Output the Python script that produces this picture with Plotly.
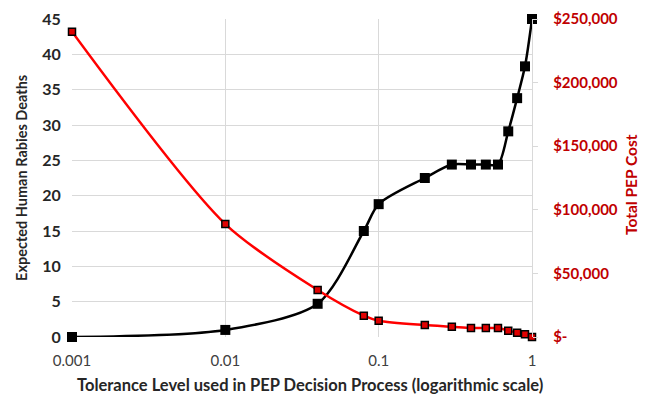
import plotly.graph_objects as go

tolerance = [0.001, 0.01, 0.04, 0.08, 0.1, 0.2, 0.3, 0.4, 0.5, 0.6, 0.7, 0.8, 0.9, 1.0]
deaths = [0.0, 1.0, 4.7, 15.0, 18.8, 22.5, 24.4, 24.4, 24.4, 24.4, 29.1, 33.8, 38.3, 45.0]
cost = [240000, 88800, 37000, 16800, 12800, 9400, 8100, 7100, 7000, 7000, 5000, 3400, 2100, 0]

x_ticks = [0.001, 0.01, 0.1, 1]
x_ticktext = ["0.001", "0.01", "0.1", "1"]
y_ticks = [0, 5, 10, 15, 20, 25, 30, 35, 40, 45]
y2_ticks = [0, 50000, 100000, 150000, 200000, 250000]
y2_ticktext = ["$-", "$50,000", "$100,000", "$150,000", "$200,000", "$250,000"]

x_title = "Tolerance Level used in PEP Decision Process (logarithmic scale)"
y_title = "Expected Human Rabies Deaths"
y2_title = "Total PEP Cost"

RED = "#C00000"
FONT = "Lato"

fig = go.Figure()
fig.add_trace(go.Scatter(
    x=tolerance, y=cost, yaxis="y2", mode="lines+markers",
    line=dict(color="#FF0000", width=2.5, shape="spline", smoothing=0.8),
    marker=dict(symbol="square", size=7, color="#E00000", line=dict(color="black", width=1.5)),
    cliponaxis=False, showlegend=False))
fig.add_trace(go.Scatter(
    x=tolerance, y=deaths, mode="lines+markers",
    line=dict(color="black", width=2.5, shape="spline", smoothing=0.8),
    marker=dict(symbol="square", size=10, color="black"),
    cliponaxis=False, showlegend=False))

fig.update_layout(
    width=638, height=387,
    margin=dict(l=64, r=114, t=11, b=58),
    paper_bgcolor="white", plot_bgcolor="white",
    font=dict(family=FONT, color="#262626"),
    xaxis=dict(type="log", range=[-3, 0], tickvals=x_ticks, ticktext=x_ticktext,
               showgrid=True, gridcolor="#d9d9d9", gridwidth=1.3, zeroline=False,
               showline=False, ticks="outside", ticklen=10, tickcolor="rgba(0,0,0,0)",
               tickfont=dict(size=15, color="#404040"), automargin=False),
    yaxis=dict(range=[0, 45], tickvals=y_ticks, showgrid=True, gridcolor="#d9d9d9", gridwidth=1.3,
               zeroline=False, showline=False, ticks="outside", ticklen=7,
               tickcolor="rgba(0,0,0,0)",
               tickfont=dict(size=16, color="#262626", weight="bold"), automargin=False),
    yaxis2=dict(range=[0, 250000], overlaying="y", side="right", tickvals=y2_ticks,
                ticktext=y2_ticktext, showgrid=False, zeroline=False,
                showline=True, linecolor="#d9d9d9", linewidth=1.3,
                ticks="outside", ticklen=5, tickcolor="#d9d9d9",
                tickfont=dict(size=15, color=RED, weight="bold"), automargin=False,
                ticklabelstandoff=12),
    annotations=[
        dict(text="<b>" + x_title + "</b>", xref="paper", yref="paper", x=0.517, y=-0.151,
             xanchor="center", yanchor="middle", showarrow=False,
             font=dict(size=16.5, color="#262626")),
        dict(text="<b>" + y_title + "</b>", xref="paper", yref="paper", x=-0.111, y=0.5,
             xanchor="center", yanchor="middle", textangle=-90, showarrow=False,
             font=dict(size=14.5, color="#262626")),
        dict(text="<b>" + y2_title + "</b>", xref="paper", yref="paper", x=1.215, y=0.481,
             xanchor="center", yanchor="middle", textangle=-90, showarrow=False,
             font=dict(size=15.5, color=RED)),
    ],
)

fig.write_html("out.html")
